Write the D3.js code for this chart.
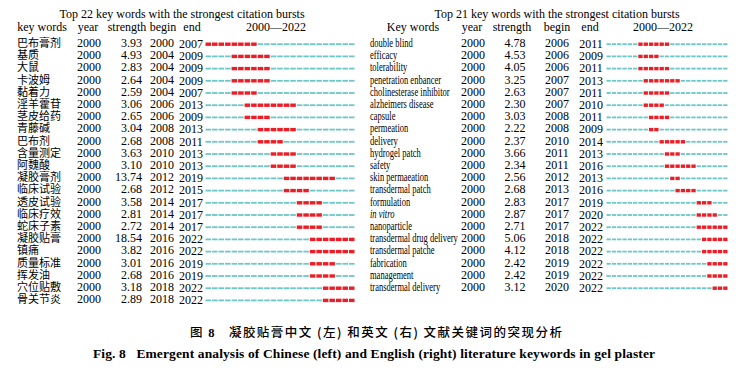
<!DOCTYPE html>
<html>
<head>
<meta charset="utf-8">
<script src="https://cdn.jsdelivr.net/npm/d3@7"></script>
<style>
  body { margin: 0; background: #fff; }
  text { font-family: "Liberation Serif", "Times New Roman", serif; fill: #000; }
  .cn { font-family: "Noto Sans CJK SC", sans-serif; }
</style>
</head>
<body>
<div id="chart"></div>
<script>
// ---- left table (Chinese keywords) ----
const cnWords = ['巴布膏剂', '基质', '大鼠', '卡波姆', '黏着力', '淫羊藿苷', '茎皮给药', '青藤碱', '巴布剂', '含量测定', '阿魏酸',
                 '凝胶膏剂', '临床试验', '透皮试验', '临床疗效', '蛇床子素', '凝胶贴膏', '镇痛', '质量标准', '挥发油', '穴位贴敷', '骨关节炎'];
const cnStrength = ['3.93', '4.93', '2.83', '2.64', '2.59', '3.06', '2.65', '3.04', '2.68', '3.63', '3.10',
                    '13.74', '2.68', '3.58', '2.81', '2.72', '18.54', '3.82', '3.01', '2.68', '3.18', '2.89'];
const cnBegin = [2000, 2004, 2004, 2004, 2004, 2006, 2006, 2008, 2008, 2010, 2010, 2012, 2012, 2014, 2014, 2014, 2016, 2016, 2016, 2016, 2018, 2018];
const cnEnd   = [2007, 2009, 2009, 2009, 2007, 2013, 2009, 2013, 2011, 2013, 2013, 2019, 2015, 2017, 2017, 2017, 2022, 2022, 2019, 2019, 2022, 2022];

// ---- right table (English keywords) ----
const enWords = ['double blind', 'efficacy', 'tolerability', 'penetration enbancer', 'cholinesterase inhibitor', 'alzheimers disease',
                 'capsule', 'permeation', 'delivery', 'hydrogel patch', 'safety', 'skin permaeation', 'transdermal patch', 'formulation',
                 'in vitro', 'nanoparticle', 'transdermal drug delivery', 'transdermal patche', 'fabrication', 'management', 'transdermal delivery'];
const enStrength = ['4.78', '4.53', '4.05', '3.25', '2.63', '2.30', '3.03', '2.22', '2.37', '3.66', '2.34', '2.56', '2.68', '2.83',
                    '2.87', '2.71', '5.06', '4.12', '2.42', '2.42', '3.12'];
const enBegin = [2006, 2006, 2006, 2007, 2007, 2007, 2008, 2008, 2010, 2011, 2011, 2012, 2013, 2017, 2017, 2017, 2018, 2018, 2019, 2019, 2020];
const enEnd   = [2011, 2009, 2011, 2013, 2011, 2010, 2011, 2009, 2014, 2013, 2016, 2013, 2016, 2019, 2020, 2022, 2022, 2022, 2022, 2022, 2022];

const startYear = 2000, endYear = 2022;
const years = d3.range(startYear, endYear + 1);

const svg = d3.select('#chart').append('svg')
    .attr('width', 750)
    .attr('height', 371);

const rowY = d3.scaleLinear().domain([0, 1]).range([43, 55.2]);

function drawTable(cfg) {
    const g = svg.append('g');
    const n = cfg.words.length;
    const rows = d3.range(n);

    g.append('text')
        .attr('x', cfg.titleX).attr('y', 18)
        .attr('text-anchor', 'middle')
        .style('font-size', '12px')
        .text(cfg.title);

    // header row
    cfg.header.forEach(h => {
        g.append('text')
            .attr('x', h.x).attr('y', 31)
            .attr('text-anchor', 'middle')
            .style('font-size', '12px')
            .text(h.t);
    });

    const x = d3.scaleLinear().domain([startYear, endYear + 1]).range(cfg.barRange);
    const yw = x(startYear + 1) - x(startYear);

    const row = g.selectAll('g.row').data(rows).enter()
        .append('g').attr('class', 'row')
        .attr('transform', i => 'translate(0,' + rowY(i) + ')');

    // keyword
    row.append('text')
        .attr('class', cfg.wordClass)
        .attr('x', cfg.wordX).attr('y', 4)
        .attr('transform', cfg.wordScale ? 'translate(' + cfg.wordX + ',0) scale(' + cfg.wordScale + ',1) translate(' + (-cfg.wordX) + ',0)' : null)
        .style('font-size', cfg.wordSize)
        .style('font-style', i => cfg.words[i] === 'in vitro' ? 'italic' : null)
        .text(i => cfg.words[i]);

    row.append('text')
        .attr('x', cfg.yearX).attr('y', 4)
        .attr('text-anchor', 'middle')
        .style('font-size', '12px')
        .text('2000');

    row.append('text')
        .attr('x', cfg.strengthX).attr('y', 4)
        .attr('text-anchor', cfg.strengthAnchor)
        .style('font-size', '12px')
        .text(i => cfg.strength[i]);

    row.append('text')
        .attr('x', cfg.beginX).attr('y', 4)
        .attr('text-anchor', 'middle')
        .style('font-size', '12px')
        .text(i => cfg.begin[i]);

    row.append('text')
        .attr('x', cfg.endX).attr('y', 5)
        .attr('text-anchor', 'middle')
        .style('font-size', '12px')
        .text(i => cfg.end[i]);

    // year segments
    row.selectAll('rect.seg')
        .data(i => years.map(yr => ({ yr: yr, burst: yr >= cfg.begin[i] && yr <= cfg.end[i] })))
        .enter().append('rect')
        .attr('class', 'seg')
        .attr('x', d => x(d.yr) + 0.5)
        .attr('width', yw - 1)
        .attr('y', d => d.burst ? -0.5 : 0.3)
        .attr('height', d => d.burst ? 3.4 : 1.8)
        .attr('fill', d => d.burst ? '#ee1c25' : '#6cc8c8');
}

drawTable({
    title: 'Top 22 key words with the strongest citation bursts',
    titleX: 182,
    header: [
        { t: 'key words', x: 42 }, { t: 'year', x: 88 }, { t: 'strength', x: 127 },
        { t: 'begin', x: 163 }, { t: 'end', x: 192 }, { t: '2000\u20142022', x: 276 }
    ],
    words: cnWords, strength: cnStrength, begin: cnBegin, end: cnEnd,
    wordClass: 'cn', wordX: 17, wordSize: '11px',
    yearX: 89, strengthX: 142, strengthAnchor: 'end', beginX: 162, endX: 191,
    barRange: [205, 355]
});

drawTable({
    title: 'Top 21 key words with the strongest citation bursts',
    titleX: 557,
    header: [
        { t: 'Key words', x: 413 }, { t: 'year', x: 472 }, { t: 'strength', x: 512 },
        { t: 'begin', x: 557 }, { t: 'end', x: 590 }, { t: '2000\u20142022', x: 663 }
    ],
    words: enWords, strength: enStrength, begin: enBegin, end: enEnd,
    wordClass: 'en', wordX: 370, wordSize: '11.5px', wordScale: 0.74,
    yearX: 473, strengthX: 515, strengthAnchor: 'middle', beginX: 557, endX: 591,
    barRange: [606, 728]
});

// caption
const capCn = svg.append('text')
    .attr('class', 'cn')
    .attr('x', 190).attr('y', 337)
    .attr('textLength', 372)
    .attr('lengthAdjust', 'spacing')
    .style('font-size', '12.5px')
    .style('font-weight', '500')
    .attr('xml:space', 'preserve');
capCn.append('tspan').text('图 ');
capCn.append('tspan').style('font-family', '"Liberation Serif", serif').style('font-weight', 'bold').text('8');
capCn.append('tspan').text('   凝胶贴膏中文 (左) 和英文 (右) 文献关键词的突现分析');

svg.append('text')
    .attr('x', 93).attr('y', 358)
    .attr('textLength', 562)
    .attr('lengthAdjust', 'spacing')
    .attr('xml:space', 'preserve')
    .style('font-size', '13.5px')
    .style('font-weight', 'bold')
    .text('Fig. 8   Emergent analysis of Chinese (left) and English (right) literature keywords in gel plaster');
</script>
</body>
</html>
